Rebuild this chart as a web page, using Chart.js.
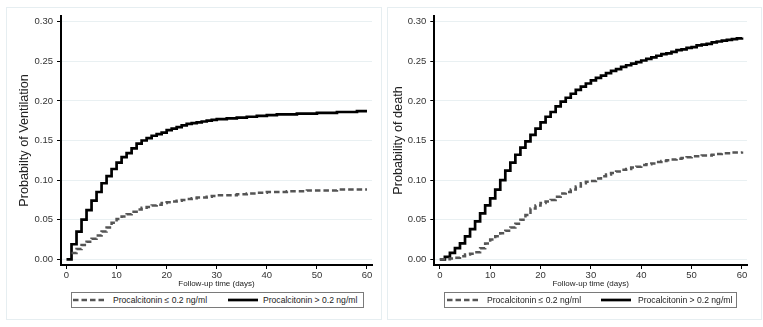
<!DOCTYPE html>
<html>
<head>
<meta charset="utf-8">
<script src="https://cdn.jsdelivr.net/npm/chart.js@4/dist/chart.umd.min.js"></script>
<style>
  body { margin:0; background:#fff; font-family:"Liberation Sans", Arial, sans-serif; }
  #wrap { position:relative; width:763px; height:327px; overflow:hidden; }
  .frame { position:absolute; border:1px solid #e6eef1; box-sizing:border-box; }
  canvas { position:absolute; top:0; }
  .legend { position:absolute; top:292px; height:16px; width:293px; border:1px solid #7a7a7a; box-sizing:border-box; background:#fff; font-size:8.6px; color:#222; }
  .legend span { position:absolute; top:1.5px; white-space:nowrap; }
  .legend svg { position:absolute; left:0; top:0; }
</style>
</head>
<body>
<div id="wrap">
  <div class="frame" style="left:6px;top:7px;width:376px;height:313px"></div>
  <div class="frame" style="left:387px;top:7px;width:375px;height:313px"></div>
  <canvas id="c1" width="380" height="327" style="left:0"></canvas>
  <canvas id="c2" width="383" height="327" style="left:380px"></canvas>
  <div class="legend" style="left:71px">
    <svg width="291" height="14"><line x1="1" y1="7" x2="35" y2="7" stroke="#555" stroke-width="2.5" stroke-dasharray="5.5,3"/><line x1="156" y1="7" x2="186" y2="7" stroke="#000" stroke-width="2.7"/></svg>
    <span style="left:41px">Procalcitonin ≤ 0.2 ng/ml</span>
    <span style="left:191px">Procalcitonin &gt; 0.2 ng/ml</span>
  </div>
  <div class="legend" style="left:444px">
    <svg width="291" height="14"><line x1="2" y1="7" x2="35" y2="7" stroke="#555" stroke-width="2.5" stroke-dasharray="5.5,3"/><line x1="156" y1="7" x2="186" y2="7" stroke="#000" stroke-width="2.7"/></svg>
    <span style="left:42px">Procalcitonin ≤ 0.2 ng/ml</span>
    <span style="left:193px">Procalcitonin &gt; 0.2 ng/ml</span>
  </div>
</div>
<script>
// ventilation panel: daily to 30, then every 2 days
var ventDays = [0,1,2,3,4,5,6,7,8,9,10,11,12,13,14,15,16,17,18,19,20,21,22,23,24,25,26,27,28,29,30,
                32,34,36,38,40,42,44,46,48,50,52,54,56,58,60];
// procalcitonin > 0.2
var ventHigh = [0,0.019,0.035,0.050,0.062,0.074,0.085,0.096,0.105,0.114,0.122,0.129,0.134,0.140,0.146,0.150,
                0.153,0.156,0.158,0.160,0.163,0.165,0.167,0.169,0.171,0.172,0.173,0.174,0.175,0.176,0.177,
                0.178,0.179,0.180,0.181,0.182,0.183,0.183,0.184,0.184,0.185,0.185,0.186,0.186,0.187,0.187];
// procalcitonin <= 0.2
var ventLow = [null,0.008,0.013,0.018,0.022,0.026,0.030,0.035,0.040,0.046,0.051,0.054,0.057,0.060,0.063,0.065,
               0.066,0.068,0.069,0.071,0.072,0.073,0.074,0.075,0.076,0.077,0.078,0.078,0.079,0.080,0.081,
               0.081,0.082,0.083,0.084,0.085,0.085,0.086,0.086,0.087,0.087,0.087,0.088,0.088,0.088,0.088];

// death panel: daily 0..60
var deathDays = [0,1,2,3,4,5,6,7,8,9,10,11,12,13,14,15,16,17,18,19,20,21,22,23,24,25,26,27,28,29,30,
                 31,32,33,34,35,36,37,38,39,40,41,42,43,44,45,46,47,48,49,50,51,52,53,54,55,56,57,58,59,60];
var deathHigh = [0,0.003,0.008,0.014,0.020,0.029,0.038,0.048,0.058,0.068,0.077,0.088,0.100,0.112,0.122,0.132,
                 0.141,0.149,0.157,0.165,0.173,0.180,0.186,0.193,0.199,0.204,0.209,0.214,0.218,0.222,0.226,
                 0.229,0.232,0.235,0.238,0.240,0.243,0.245,0.247,0.249,0.251,0.253,0.255,0.257,0.259,0.260,
                 0.262,0.264,0.265,0.267,0.268,0.270,0.271,0.272,0.274,0.275,0.276,0.277,0.278,0.279,0.280];
var deathLow = [0,0,0.001,0.002,0.004,0.006,0.007,0.009,0.014,0.020,0.025,0.029,0.033,0.036,0.040,0.045,
                0.050,0.056,0.064,0.068,0.071,0.073,0.075,0.079,0.083,0.085,0.088,0.092,0.096,0.098,0.099,
                0.102,0.105,0.107,0.109,0.111,0.113,0.114,0.116,0.117,0.119,0.120,0.121,0.123,0.124,0.125,
                0.126,0.127,0.128,0.129,0.130,0.130,0.131,0.131,0.132,0.133,0.134,0.134,0.135,0.135,0.136];

var xTicks = [0,10,20,30,40,50,60];
var yTicks = [0,0.05,0.10,0.15,0.20,0.25,0.30];

function pts(days, vals) {
  var out = [];
  for (var i = 0; i < days.length; i++) if (vals[i] !== null) out.push({x: days[i], y: vals[i]});
  return out;
}

function panel(id, yTitle, days, low, high, yAxisW, titlePad, padRight) {
  return new Chart(document.getElementById(id), {
    type: 'line',
    data: {
      datasets: [
        { label: 'Procalcitonin ≤ 0.2 ng/ml', data: pts(days, low), stepped: true, borderColor: '#555',
          borderWidth: 2.5, borderDash: [5.5,3], pointRadius: 0, fill: false },
        { label: 'Procalcitonin > 0.2 ng/ml', data: pts(days, high), stepped: true, borderColor: '#000',
          borderWidth: 2.7, pointRadius: 0, fill: false }
      ]
    },
    options: {
      responsive: false, animation: false, devicePixelRatio: 1,
      layout: { padding: { left: 0, right: padRight, top: 16, bottom: 38 } },
      plugins: { legend: { display: false }, tooltip: { enabled: false } },
      scales: {
        x: {
          type: 'linear', min: -1.1, max: 61,
          afterBuildTicks: function (s) { s.ticks = xTicks.map(function (v) { return {value: v}; }); },
          afterFit: function (s) { s.height = 24; },
          grid: { drawOnChartArea: false, tickLength: 4, tickColor: '#000', tickWidth: 1 },
          border: { color: '#000', width: 2 },
          ticks: { color: '#333', padding: 1, maxRotation: 0, font: { family: 'Liberation Sans', size: 9.5 } },
          title: { display: true, text: 'Follow-up time (days)', color: '#222', padding: 0,
                   font: { family: 'Liberation Sans', size: 8 } }
        },
        y: {
          min: -0.0072, max: 0.3072,
          afterBuildTicks: function (s) { s.ticks = yTicks.map(function (v) { return {value: v}; }); },
          afterFit: function (s) { s.width = yAxisW; },
          grid: { color: '#e9f0f2', lineWidth: 1, tickLength: 4, tickColor: '#000', tickWidth: 1 },
          border: { color: '#000', width: 2 },
          ticks: { color: '#333', padding: 4, font: { family: 'Liberation Sans', size: 9.5 },
                   callback: function (v) { return v.toFixed(2); } },
          title: { display: true, text: yTitle, color: '#222', padding: { top: titlePad, bottom: 0 },
                   font: { family: 'Liberation Sans', size: 12.7 } }
        }
      }
    }
  });
}

panel('c1', 'Probabilty of Ventilation', ventDays, ventLow, ventHigh, 61, 17, 8);
panel('c2', 'Probability of death', deathDays, deathLow, deathHigh, 54.3, 11, 16);
</script>
</body>
</html>
